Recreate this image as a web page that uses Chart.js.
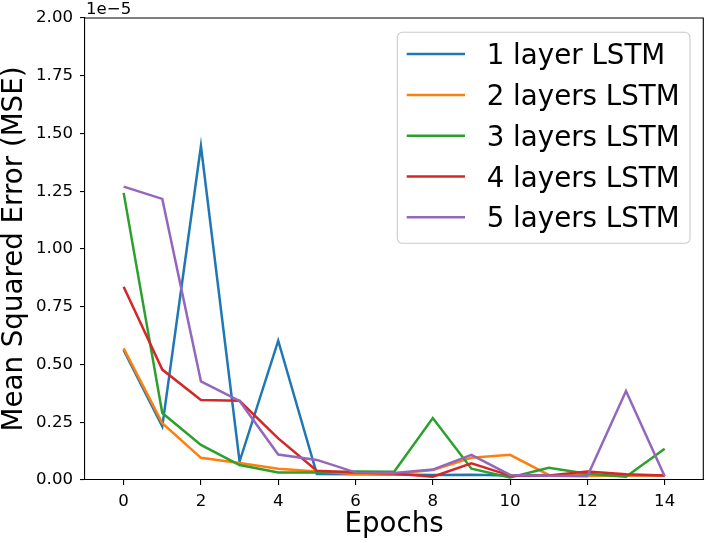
<!DOCTYPE html>
<html>
<head>
<meta charset="utf-8">
<script src="https://cdn.jsdelivr.net/npm/chart.js@4/dist/chart.umd.min.js"></script>
<style>
  html, body { margin: 0; padding: 0; background: #fff; }
  #c { display: block; }
</style>
</head>
<body>
<canvas id="c" width="706" height="543"></canvas>
<script>
// ---- data (MSE values in units of 1e-5) ----
const epochs = [0, 1, 2, 3, 4, 5, 6, 7, 8, 9, 10, 11, 12, 13, 14];
const seriesNames = ['1 layer LSTM', '2 layers LSTM', '3 layers LSTM', '4 layers LSTM', '5 layers LSTM'];
const lstm1 = [0.562, 0.232, 1.446, 0.080, 0.603, 0.026, 0.025, 0.024, 0.022, 0.023, 0.020, 0.020, 0.022, 0.020, 0.020];
const lstm2 = [0.570, 0.246, 0.096, 0.074, 0.049, 0.037, 0.026, 0.027, 0.043, 0.096, 0.109, 0.022, 0.018, 0.020, 0.020];
const lstm3 = [1.243, 0.290, 0.152, 0.065, 0.033, 0.033, 0.037, 0.036, 0.268, 0.049, 0.011, 0.053, 0.027, 0.014, 0.135];
const lstm4 = [0.837, 0.478, 0.346, 0.343, 0.180, 0.040, 0.033, 0.028, 0.014, 0.072, 0.019, 0.020, 0.037, 0.025, 0.020];
const lstm5 = [1.270, 1.217, 0.427, 0.342, 0.110, 0.087, 0.033, 0.030, 0.045, 0.109, 0.022, 0.018, 0.016, 0.385, 0.016];
const xTicks = [0, 2, 4, 6, 8, 10, 12, 14];
const yTicks = [0, 0.25, 0.5, 0.75, 1.0, 1.25, 1.5, 1.75, 2.0];
const offsetLabel = '1e\u22125';
const xTitle = 'Epochs';
const yTitle = 'Mean Squared Error (MSE)';

const colors = ['#1f77b4', '#ff7f0e', '#2ca02c', '#d62728', '#9467bd'];
const allSeries = [lstm1, lstm2, lstm3, lstm4, lstm5];
const FONT = '"DejaVu Sans", sans-serif';
const LW = 2.5;

const datasets = allSeries.map((vals, i) => ({
  label: seriesNames[i],
  data: vals.map((v, j) => ({ x: epochs[j], y: v })),
  borderColor: colors[i],
  backgroundColor: colors[i],
  borderWidth: LW,
  pointRadius: 0,
  tension: 0,
  fill: false,
  order: -i
}));

const framePlugin = {
  id: 'frame',
  afterDraw(chart) {
    const { ctx, chartArea: a } = chart;
    ctx.save();
    // top & right spines
    ctx.strokeStyle = '#000';
    ctx.lineWidth = 1.1;
    ctx.beginPath();
    ctx.moveTo(a.left, a.top);
    ctx.lineTo(a.right, a.top);
    ctx.lineTo(a.right, a.bottom);
    ctx.stroke();
    // offset text
    ctx.fillStyle = '#000';
    ctx.font = '16.6px ' + FONT;
    ctx.textAlign = 'left';
    ctx.textBaseline = 'alphabetic';
    ctx.fillText(offsetLabel, a.left + 1, 13.5);
    // legend
    const bx = 397.3, by = 32.3, bw = 292.7, bh = 211, r = 5;
    ctx.beginPath();
    ctx.moveTo(bx + r, by);
    ctx.lineTo(bx + bw - r, by);
    ctx.arcTo(bx + bw, by, bx + bw, by + r, r);
    ctx.lineTo(bx + bw, by + bh - r);
    ctx.arcTo(bx + bw, by + bh, bx + bw - r, by + bh, r);
    ctx.lineTo(bx + r, by + bh);
    ctx.arcTo(bx, by + bh, bx, by + bh - r, r);
    ctx.lineTo(bx, by + r);
    ctx.arcTo(bx, by, bx + r, by, r);
    ctx.closePath();
    ctx.fillStyle = 'rgba(255,255,255,0.8)';
    ctx.fill();
    ctx.strokeStyle = '#cccccc';
    ctx.lineWidth = 1.1;
    ctx.stroke();
    const rowY = [54, 95, 135.8, 176.4, 217.3];
    ctx.font = '27.7px ' + FONT;
    ctx.textBaseline = 'alphabetic';
    chart.data.datasets.forEach((ds, i) => {
      const y = rowY[i];
      ctx.strokeStyle = ds.borderColor;
      ctx.lineWidth = LW;
      ctx.beginPath();
      ctx.moveTo(406.7, y);
      ctx.lineTo(465, y);
      ctx.stroke();
      ctx.fillStyle = '#000';
      ctx.fillText(ds.label, 486.7, y + 10.1);
    });
    ctx.restore();
  }
};

new Chart(document.getElementById('c'), {
  type: 'line',
  data: { datasets },
  options: {
    responsive: false,
    animation: false,
    devicePixelRatio: 1,
    layout: { padding: { left: 0, right: 2.7, top: 18, bottom: 0 } },
    plugins: { legend: { display: false }, tooltip: { enabled: false } },
    scales: {
      x: {
        type: 'linear',
        min: -1,
        max: 15,
        afterBuildTicks(scale) { scale.ticks = xTicks.map(v => ({ value: v })); },
        afterFit(scale) { scale.height = 63; },
        ticks: {
          color: '#000',
          font: { family: FONT, size: 16.6 },
          padding: 7,
          maxRotation: 0,
          callback: v => String(v)
        },
        grid: { drawOnChartArea: false, drawTicks: true, tickLength: 5, color: '#000', lineWidth: 1.1 },
        border: { display: true, color: '#000', width: 1.1 },
        title: {
          display: true,
          text: xTitle,
          color: '#000',
          font: { family: FONT, size: 27.7, lineHeight: 1 },
          padding: { top: 0, bottom: 4 }
        }
      },
      y: {
        type: 'linear',
        min: 0,
        max: 2,
        afterBuildTicks(scale) { scale.ticks = yTicks.map(v => ({ value: v })); },
        afterFit(scale) { scale.width = 85; },
        ticks: {
          color: '#000',
          font: { family: FONT, size: 16.6 },
          padding: 7,
          callback: v => Number(v).toFixed(2)
        },
        grid: { drawOnChartArea: false, drawTicks: true, tickLength: 5, color: '#000', lineWidth: 1.1 },
        border: { display: true, color: '#000', width: 1.1 },
        title: {
          display: true,
          text: yTitle,
          color: '#000',
          font: { family: FONT, size: 27.7, lineHeight: 1 },
          padding: { top: 1, bottom: 0 }
        }
      }
    }
  },
  plugins: [framePlugin]
});
</script>
</body>
</html>
